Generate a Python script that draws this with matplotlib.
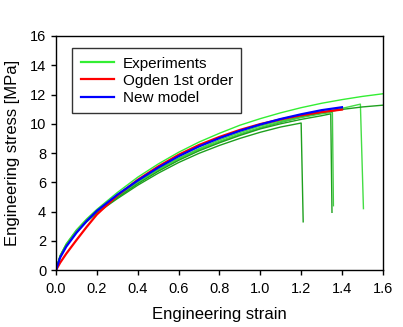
import matplotlib
matplotlib.use("Agg")
import matplotlib.pyplot as plt
import numpy as np

plt.rcParams['font.family'] = ['Liberation Sans', 'DejaVu Sans']

# experiments: strain / stress (last points are the failure drop)
exp1_x = [0, 0.02, 0.05, 0.1, 0.15, 0.2, 0.3, 0.4, 0.5, 0.6, 0.7, 0.8, 0.9, 1.0, 1.1, 1.2, 1.3, 1.4, 1.5, 1.6]
exp1_y = [0, 1.0, 1.8, 2.75, 3.5, 4.15, 5.3, 6.35, 7.25, 8.05, 8.75, 9.35, 9.9, 10.35, 10.75, 11.1, 11.4, 11.65, 11.87, 12.05]

exp2_x = [0, 0.02, 0.05, 0.1, 0.15, 0.2, 0.3, 0.4, 0.5, 0.6, 0.7, 0.8, 0.9, 1.0, 1.1, 1.2, 1.3, 1.4, 1.49, 1.505]
exp2_y = [0, 0.95, 1.75, 2.7, 3.45, 4.05, 5.1, 6.05, 6.9, 7.65, 8.3, 8.9, 9.4, 9.85, 10.2, 10.5, 10.78, 11.05, 11.34, 4.2]

exp3_x = [0, 0.02, 0.05, 0.1, 0.15, 0.2, 0.3, 0.4, 0.5, 0.6, 0.7, 0.8, 0.9, 1.0, 1.1, 1.2, 1.3, 1.4, 1.5, 1.6]
exp3_y = [0, 0.95, 1.72, 2.65, 3.4, 4.0, 5.0, 5.95, 6.8, 7.55, 8.2, 8.75, 9.25, 9.7, 10.1, 10.45, 10.75, 10.98, 11.15, 11.27]

exp4_x = [0, 0.02, 0.05, 0.1, 0.15, 0.2, 0.3, 0.4, 0.5, 0.6, 0.7, 0.8, 0.9, 1.0, 1.1, 1.2, 1.3, 1.345, 1.351]
exp4_y = [0, 0.9, 1.7, 2.6, 3.35, 3.95, 4.95, 5.9, 6.75, 7.5, 8.15, 8.7, 9.2, 9.65, 10.0, 10.3, 10.55, 10.68, 3.95]

exp5_x = [0, 0.02, 0.05, 0.1, 0.15, 0.2, 0.3, 0.4, 0.5, 0.6, 0.7, 0.8, 0.9, 1.0, 1.1, 1.2, 1.3, 1.353, 1.358]
exp5_y = [0, 0.95, 1.75, 2.7, 3.42, 4.02, 5.05, 6.0, 6.85, 7.6, 8.25, 8.8, 9.3, 9.75, 10.12, 10.43, 10.68, 10.78, 4.4]

exp6_x = [0, 0.02, 0.05, 0.1, 0.15, 0.2, 0.3, 0.4, 0.5, 0.6, 0.7, 0.8, 0.9, 1.0, 1.1, 1.2, 1.21]
exp6_y = [0, 0.9, 1.68, 2.58, 3.3, 3.9, 4.88, 5.8, 6.62, 7.35, 7.98, 8.52, 9.0, 9.42, 9.78, 10.05, 3.3]

# Ogden 1st order fit
ogden_x = [0, 0.02, 0.05, 0.1, 0.15, 0.2, 0.3, 0.4, 0.5, 0.6, 0.7, 0.8, 0.9, 1.0, 1.1, 1.2, 1.3, 1.4]
ogden_y = [0, 0.5, 1.12, 2.05, 2.95, 3.8, 5.1, 6.17, 7.08, 7.88, 8.55, 9.1, 9.58, 9.98, 10.3, 10.58, 10.8, 10.97]

# new model fit
new_x = [0, 0.02, 0.05, 0.1, 0.15, 0.2, 0.3, 0.4, 0.5, 0.6, 0.7, 0.8, 0.9, 1.0, 1.1, 1.2, 1.3, 1.4]
new_y = [0, 0.85, 1.6, 2.55, 3.35, 4.05, 5.15, 6.12, 7.0, 7.78, 8.45, 9.02, 9.52, 9.95, 10.33, 10.65, 10.93, 11.13]

fig = plt.figure(figsize=(4.03, 3.27), dpi=100)
ax = fig.add_axes([0.139, 0.174, 0.811, 0.716])

light = "#33ee33"
dark = "#1ea01e"
ax.plot(exp1_x, exp1_y, color=light, lw=1.0, label="Experiments")
ax.plot(exp2_x, exp2_y, color="#44dd44", lw=1.0)
ax.plot(exp3_x, exp3_y, color=dark, lw=1.0)
ax.plot(exp4_x, exp4_y, color=dark, lw=1.0)
ax.plot(exp5_x, exp5_y, color="#44cc44", lw=1.0)
ax.plot(exp6_x, exp6_y, color=dark, lw=1.0)
ax.plot(ogden_x, ogden_y, color="#ff0000", lw=1.6, label="Ogden 1st order")
ax.plot(new_x, new_y, color="#0000ff", lw=1.6, label="New model")

ax.set_xlim(0, 1.6)
ax.set_ylim(0, 16)
ax.set_xticks(np.arange(0, 1.61, 0.2))
ax.set_xticklabels(["%.1f" % v for v in np.arange(0, 1.61, 0.2)])
ax.set_yticks(np.arange(0, 17, 2))
ax.tick_params(direction="out", length=3.6, width=1, labelsize=10.5, top=False, right=False)
ax.tick_params(axis="x", pad=5)
ax.tick_params(axis="y", pad=3.5)
for s in ax.spines.values():
    s.set_linewidth(1.0)

ax.set_xlabel("Engineering strain", fontsize=12, labelpad=8)
ax.set_ylabel("Engineering stress [MPa]", fontsize=12, labelpad=7)

leg = ax.legend(loc="upper left", bbox_to_anchor=(0.05, 0.947), fontsize=11,
                fancybox=False, frameon=True, borderpad=0.55, handlelength=2.2,
                handletextpad=0.55, labelspacing=0.2, borderaxespad=0)
leg.get_frame().set_edgecolor("black")
leg.get_frame().set_linewidth(1.0)
for line in leg.get_lines():
    line.set_linewidth(1.6)

fig.savefig("out.png", dpi=100)
